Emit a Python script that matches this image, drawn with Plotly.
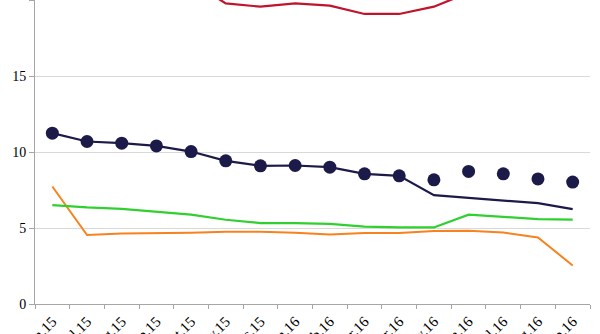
import plotly.graph_objects as go

months = ["Jun.15", "Jul.15", "Aug.15", "Sep.15", "Oct.15", "Nov.15", "Dec.15",
          "Jan.16", "Feb.16", "Mar.16", "Apr.16", "May.16", "Jun.16", "Jul.16",
          "Aug.16", "Sep.16"]

red_vals = [23.5, 23.0, 22.6, 22.0, 21.2, 19.8, 19.58, 19.8, 19.65, 19.1, 19.1,
            19.58, 20.5, 21.2, 21.8, 22.3]
navy_dots = [11.25, 10.70, 10.59, 10.41, 10.04, 9.43, 9.10, 9.12, 9.01, 8.57,
             8.44, 8.18, 8.73, 8.57, 8.24, 8.03]
navy_line = [11.25, 10.70, 10.59, 10.41, 10.04, 9.43, 9.10, 9.12, 9.01, 8.57,
             8.44, 7.17, 6.99, 6.80, 6.64, 6.25]
green_vals = [6.51, 6.36, 6.27, 6.09, 5.88, 5.55, 5.33, 5.33, 5.28, 5.09, 5.04,
              5.04, 5.88, 5.74, 5.59, 5.55]
orange_vals = [7.74, 4.54, 4.65, 4.67, 4.70, 4.76, 4.76, 4.70, 4.58, 4.67, 4.67,
               4.80, 4.82, 4.71, 4.38, 2.54]

fig = go.Figure()
fig.add_trace(go.Scatter(x=months, y=red_vals, mode="lines",
                         line=dict(color="#c0142c", width=2.2)))
fig.add_trace(go.Scatter(x=months, y=orange_vals, mode="lines",
                         line=dict(color="#f7821e", width=2)))
fig.add_trace(go.Scatter(x=months, y=green_vals, mode="lines",
                         line=dict(color="#2fd02f", width=2.2)))
fig.add_trace(go.Scatter(x=months, y=navy_line, mode="lines",
                         line=dict(color="#1b1a48", width=2.2)))
fig.add_trace(go.Scatter(x=months, y=navy_dots, mode="markers",
                         marker=dict(color="#1b1a48", size=13)))

font = dict(family="Liberation Serif, Times New Roman, serif", size=14, color="#000")
xfont = dict(family="Liberation Serif, Times New Roman, serif", size=15, color="#000")
fig.update_layout(
    width=600, height=334,
    margin=dict(l=35, r=10, t=0, b=30),
    paper_bgcolor="white", plot_bgcolor="white",
    showlegend=False,
    font=font,
)
fig.update_xaxes(
    type="category", range=[-0.5, 15.5], tickangle=-45, showgrid=False,
    showline=True, linecolor="#a6a6a6", linewidth=1,
    ticks="outside", tickson="boundaries", ticklen=4, tickcolor="#a6a6a6",
    ticklabelstandoff=2,
    automargin=False, tickfont=xfont,
)
fig.update_yaxes(
    range=[0, 20.02], tickvals=[0, 5, 10, 15, 20],
    showgrid=True, gridcolor="#d9d9d9", gridwidth=1,
    showline=True, linecolor="#a6a6a6", linewidth=1,
    ticks="outside", ticklen=5, tickcolor="#a6a6a6",
    zeroline=False, automargin=False, tickfont=font,
)

fig.write_html("out.html")
